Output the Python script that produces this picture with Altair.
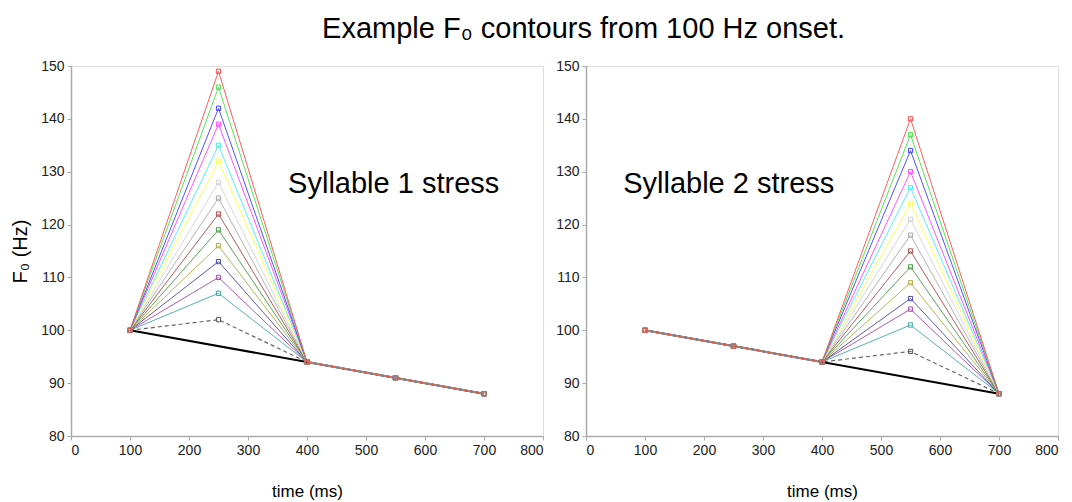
import altair as alt
import pandas as pd

# ---- data ----
times = [100, 250, 400, 550, 700]
declination = [100, 97, 94, 91, 88]
decl_line_t = [100, 700]
decl_line_f = [100, 88]
syl1_peaks = [149, 146, 142, 139, 135, 132, 128, 125, 122, 119, 116, 113, 110, 107, 102]
syl2_peaks = [140, 137, 134, 130, 127, 124, 121, 118, 115, 112, 109, 106, 104, 101, 96]
series_colors = ["#ff4a4a", "#44e044", "#4040ff", "#ff40ff", "#40f0f0", "#ffff40",
                 "#d2d2d2", "#aaaaaa", "#aa4848", "#489848", "#b0aa48", "#4848b0",
                 "#aa48aa", "#40a8a8", "#555555"]
series_dashed = [False] * 14 + [True]
note_text = ["Syllable 1 stress", "Syllable 2 stress"]
note_t = [368, 63]
note_f = [127.7, 127.7]
x_ticks = [0, 100, 200, 300, 400, 500, 600, 700, 800]
y_ticks = [80, 90, 100, 110, 120, 130, 140, 150]

FONT = "Liberation Sans"
W, H = 472, 370

common_axis = dict(grid=False, domainColor="#aaaaaa", domainWidth=1.5, tickColor="#aaaaaa",
                   tickSize=4, labelFont=FONT, labelFontSize=14, labelColor="#222222",
                   labelPadding=3, titleFont=FONT, titleColor="black",
                   titleFontWeight="normal")


def panel(peaks, peak_idx, note_i, ytitle):
    xenc = alt.X("t:Q", scale=alt.Scale(domain=[0, 800], nice=False, zero=False),
                 axis=alt.Axis(values=x_ticks, title="time (ms)", titlePadding=26,
                               titleFontSize=17, **common_axis))
    yax = dict(values=y_ticks, titleFontSize=20, titlePadding=10, **common_axis)
    if ytitle:
        yax["title"] = "F₀ (Hz)"
    else:
        yax["title"] = None
    yenc = alt.Y("f:Q", scale=alt.Scale(domain=[80, 150], nice=False, zero=False),
                 axis=alt.Axis(**yax))

    base_df = pd.DataFrame({"t": decl_line_t, "f": decl_line_f})
    layers = [alt.Chart(base_df).mark_line(color="black", strokeWidth=2).encode(x=xenc, y=yenc)]
    for i in reversed(range(len(peaks))):
        vals = list(declination)
        vals[peak_idx] = peaks[i]
        df = pd.DataFrame({"t": times, "f": vals})
        lkw = dict(color=series_colors[i], strokeWidth=1.2 if series_dashed[i] else 1, opacity=0.9)
        if series_dashed[i]:
            lkw["strokeDash"] = [4, 3]
        layers.append(alt.Chart(df).mark_line(**lkw).encode(x=xenc, y=yenc))
        layers.append(alt.Chart(df).mark_point(shape="square", filled=False, size=18,
                                               strokeWidth=1, color=series_colors[i],
                                               opacity=1).encode(x=xenc, y=yenc))
    ndf = pd.DataFrame({"t": [note_t[note_i]], "f": [note_f[note_i]], "txt": [note_text[note_i]]})
    layers.append(alt.Chart(ndf).mark_text(align="left", baseline="middle", fontSize=29,
                                           font=FONT, color="black")
                  .encode(x=xenc, y=yenc, text="txt:N"))
    return alt.layer(*layers).properties(width=W, height=H)


left = panel(syl1_peaks, 1, 0, True)
right = panel(syl2_peaks, 3, 1, False)

chart = (
    alt.hconcat(left, right, spacing=11)
    .properties(
        title=alt.TitleParams("Example F₀ contours from 100 Hz onset.", fontSize=29,
                              fontWeight="normal", font=FONT, anchor="middle",
                              color="black", offset=15, dx=49),
        padding={"left": 10, "top": 14, "right": 5, "bottom": 2},
    )
    .configure_view(stroke="#aaaaaa", strokeWidth=1.5)
    .configure(background="white")
)

chart.save("out.html", embed_options={"renderer": "svg", "actions": False})
